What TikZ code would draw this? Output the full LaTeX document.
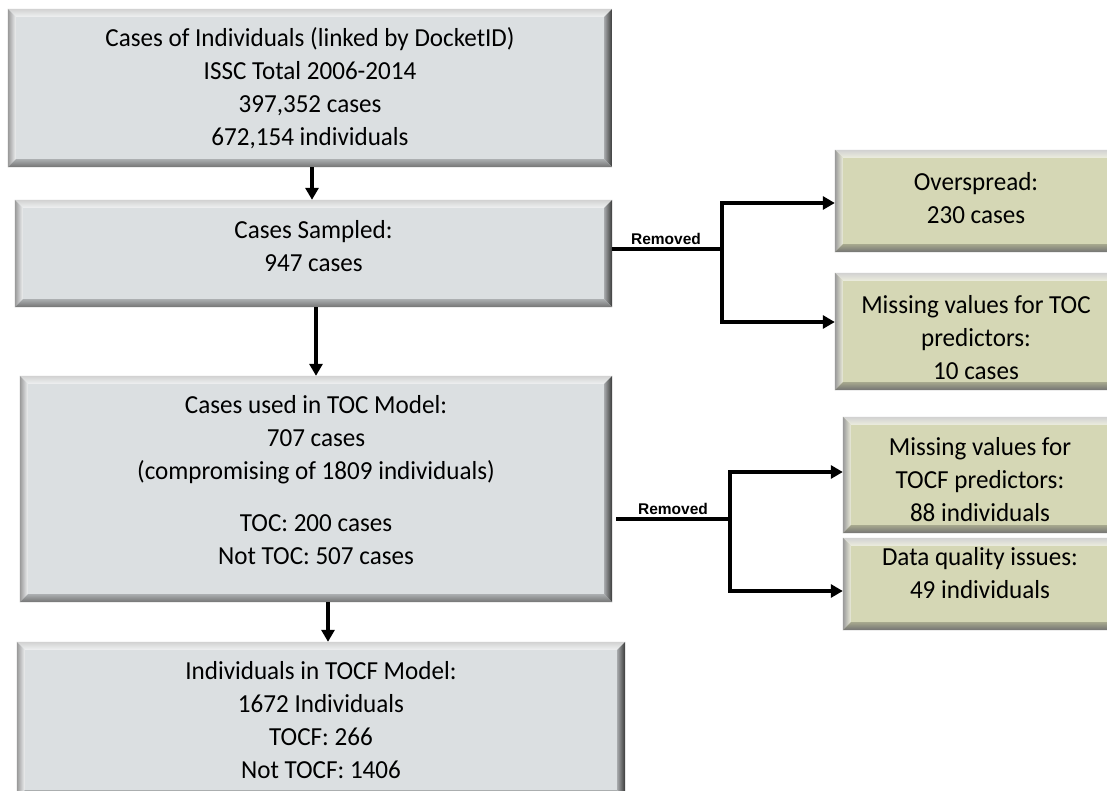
\documentclass[tikz,border=0pt]{standalone}
\usepackage{fontspec}
\setmainfont{Carlito}[FakeStretch=0.965]
\newfontfamily\labfont{Liberation Sans}
\usetikzlibrary{arrows.meta,calc}
\definecolor{boxgray}{RGB}{219,223,225}
\definecolor{boxgreen}{RGB}{213,215,181}
\newcommand\bevel[2]{%
  \shade[top color=black!18, bottom color=white!55!#2] (#1.north west) -- (#1.north east) -- ([shift={(-8,8)}]#1.north east) -- ([shift={(8,8)}]#1.north west) -- cycle;
  \shade[left color=black!40, right color=white!50!#2] (#1.north west) -- ([shift={(8,8)}]#1.north west) -- ([shift={(8,-8)}]#1.south west) -- (#1.south west) -- cycle;
  \shade[left color=#2!75!black, right color=black!78] (#1.north east) -- ([shift={(-8,8)}]#1.north east) -- ([shift={(-8,-8)}]#1.south east) -- (#1.south east) -- cycle;
  \shade[top color=#2!78!black, bottom color=black!55] (#1.south west) -- ([shift={(8,-8)}]#1.south west) -- ([shift={(-8,-8)}]#1.south east) -- (#1.south east) -- cycle;
}
\begin{document}
\begin{tikzpicture}[x=1pt,y=-1pt,
  box/.style={rectangle, inner sep=0pt},
  graybox/.style={box, fill=boxgray},
  greenbox/.style={box, fill=boxgreen},
  txt/.style={inner sep=0pt, align=center, font=\fontsize{26}{33}\selectfont},
  conn/.style={line width=4pt, line cap=rect},
  arr/.style={line width=4pt, -{Triangle[length=12pt,width=13pt]}},
  lab/.style={font=\labfont\bfseries\fontsize{15.5}{15.5}\selectfont, inner sep=0pt}]
\clip (0,0) rectangle (1107,790);
\fill[white] (0,0) rectangle (1107,790);

% main column boxes
\node[graybox, minimum width=604, minimum height=158] (b1) at (310,88) {};
\node[graybox, minimum width=597, minimum height=107] (b2) at (313.5,253.5) {};
\node[graybox, minimum width=592, minimum height=226] (b3) at (316,489) {};
\node[graybox, minimum width=608, minimum height=156] (b4) at (321,720) {};

% side boxes
\node[greenbox, minimum width=282, minimum height=102] (over) at (976,201) {};
\node[greenbox, minimum width=282, minimum height=117] (mtoc) at (976,331.5) {};
\node[greenbox, minimum width=274, minimum height=116] (mtocf) at (980,475) {};
\node[greenbox, minimum width=274, minimum height=92] (dq) at (980,584) {};

\bevel{b1}{boxgray}
\bevel{b2}{boxgray}
\bevel{b3}{boxgray}
\bevel{b4}{boxgray}
\bevel{over}{boxgreen}
\bevel{mtoc}{boxgreen}
\bevel{mtocf}{boxgreen}
\bevel{dq}{boxgreen}

% texts
\node[txt] (t1) at (b1.center)
  {Cases of Individuals (linked by DocketID)\\ISSC Total 2006-2014\\397,352 cases\\672,154 individuals};
\node[txt] (t2) at ([yshift=7]b2.center) {Cases Sampled:\\947 cases};
\node[txt] (t3) at ([yshift=9]b3.center)
  {Cases used in TOC Model:\\707 cases\\(compromising of 1809 individuals)\\[19pt]TOC: 200 cases\\Not TOC: 507 cases};
\node[txt] (t4) at (b4.center)
  {Individuals in TOCF Model:\\1672 Individuals\\TOCF: 266\\Not TOCF: 1406};
\node[txt] (t5) at ([yshift=3]over.center) {Overspread:\\230 cases};
\node[txt] (t6) at ([yshift=-6]mtoc.center) {Missing values for TOC\\predictors:\\10 cases};
\node[txt] (t7) at ([yshift=-5]mtocf.center) {Missing values for\\TOCF predictors:\\88 individuals};
\node[txt] (t8) at ([yshift=11]dq.center) {Data quality issues:\\49 individuals};

% vertical flow arrows
\draw[arr] ([xshift=2]b1.south) -- ([xshift=2]b1.south |- b2.north);
\draw[arr] ([xshift=2.5]b2.south) -- ([xshift=2.5]b2.south |- b3.north);
\draw[arr] ([xshift=12]b3.south) -- ([xshift=12]b3.south |- b4.north);

% first removal branch
\coordinate (j1) at (722,249);
\coordinate (j1t) at (722,203);
\coordinate (j1b) at (722,322);
\draw[line width=4pt] (b2.east |- j1) -- (j1);
\draw[conn] (j1t) -- (j1b);
\draw[arr] (j1t) -- (over.west |- j1t);
\draw[arr] (j1b) -- (mtoc.west |- j1b);
\node[lab] (r1) at (666,239) {Removed};

% second removal branch
\coordinate (j2) at (730,519);
\coordinate (j2t) at (730,472);
\coordinate (j2b) at (730,591);
\draw[line width=4pt] ([xshift=4]b3.east |- j2) -- (j2);
\draw[conn] (j2t) -- (j2b);
\draw[arr] (j2t) -- (mtocf.west |- j2t);
\draw[arr] (j2b) -- (dq.west |- j2b);
\node[lab] (r2) at (673,509) {Removed};
\end{tikzpicture}
\end{document}
